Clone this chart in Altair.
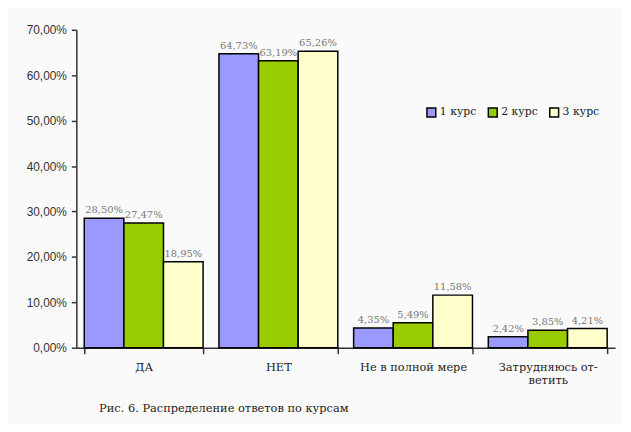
import altair as alt
import pandas as pd

categories = ["ДА", "НЕТ", "Не в полной мере", "Затрудняюсь ответить"]
series_names = ["1 курс", "2 курс", "3 курс"]
kurs1 = [28.50, 64.73, 4.35, 2.42]
kurs2 = [27.47, 63.19, 5.49, 3.85]
kurs3 = [18.95, 65.26, 11.58, 4.21]
colors = ["#9999FF", "#99CC00", "#FFFFCC"]
y_ticks = [0, 10, 20, 30, 40, 50, 60, 70]
caption = "Рис. 6. Распределение ответов по курсам"

rows = []
for s, vals in zip(series_names, [kurs1, kurs2, kurs3]):
    for c, v in zip(categories, vals):
        rows.append({"cat": c, "series": s, "value": v})
df = pd.DataFrame(rows)

serif = "DejaVu Serif"

x = alt.X(
    "cat:N",
    sort=categories,
    scale=alt.Scale(paddingInner=0.1176, paddingOuter=0.0588),
    axis=alt.Axis(
        title=None,
        labelAngle=0,
        tickBand="extent",
        labelFont=serif,
        labelFontSize=11.5,
        labelColor="#222",
        labelPadding=8,
        domainColor="#333",
        domainWidth=1.5,
        tickColor="#333",
        tickWidth=1.5,
        tickSize=6,
        labelExpr="datum.label == 'Затрудняюсь ответить' ? ['Затрудняюсь от-', 'ветить'] : datum.label",
    ),
)
xoff = alt.XOffset("series:N", sort=series_names, scale=alt.Scale(paddingInner=0, paddingOuter=0))
y = alt.Y(
    "value:Q",
    scale=alt.Scale(domain=[0, 70], nice=False),
    axis=alt.Axis(
        title=None,
        values=y_ticks,
        grid=False,
        labelExpr="replace(format(datum.value, '.2f'), '.', ',') + '%'",
        labelFont="Liberation Sans",
        labelFontSize=12,
        labelColor="#333",
        labelPadding=5,
        domainColor="#333",
        domainWidth=1.5,
        tickColor="#333",
        tickWidth=1.5,
        tickSize=5,
    ),
)

bars = alt.Chart(df).mark_bar(stroke="black", strokeWidth=1.5).encode(
    x=x,
    xOffset=xoff,
    y=y,
    color=alt.Color(
        "series:N",
        sort=series_names,
        scale=alt.Scale(domain=series_names, range=colors),
        legend=alt.Legend(
            title=None,
            orient="none",
            legendX=353,
            legendY=78,
            direction="horizontal",
            symbolType="square",
            symbolSize=80,
            symbolStrokeColor="black",
            symbolStrokeWidth=1.5,
            labelFont=serif,
            labelFontSize=11,
            labelColor="#222",
            labelOffset=3,
            columnPadding=8,
        ),
    ),
)

labels = alt.Chart(df).transform_calculate(
    txt="replace(format(datum.value, '.2f'), '.', ',') + '%'"
).mark_text(dy=-8, font=serif, fontSize=10, color="#777").encode(
    x=alt.X("cat:N", sort=categories),
    xOffset=alt.XOffset("series:N", sort=series_names),
    y=alt.Y("value:Q"),
    text="txt:N",
)

chart = (
    alt.layer(bars, labels)
    .properties(
        width=544,
        height=321,
        background="#fafafa",
        padding={"left": 69, "top": 20, "right": 8, "bottom": 75},
        autosize=alt.AutoSizeParams(type="none"),
        title=alt.TitleParams(
            text=caption,
            orient="bottom",
            anchor="start",
            frame="group",
            dx=23,
            offset=17,
            font=serif,
            fontSize=11.5,
            fontWeight="normal",
            color="#222",
        ),
    )
    .configure_view(stroke=None)
)

chart.save("out.html", embed_options={"renderer": "svg", "actions": False})
